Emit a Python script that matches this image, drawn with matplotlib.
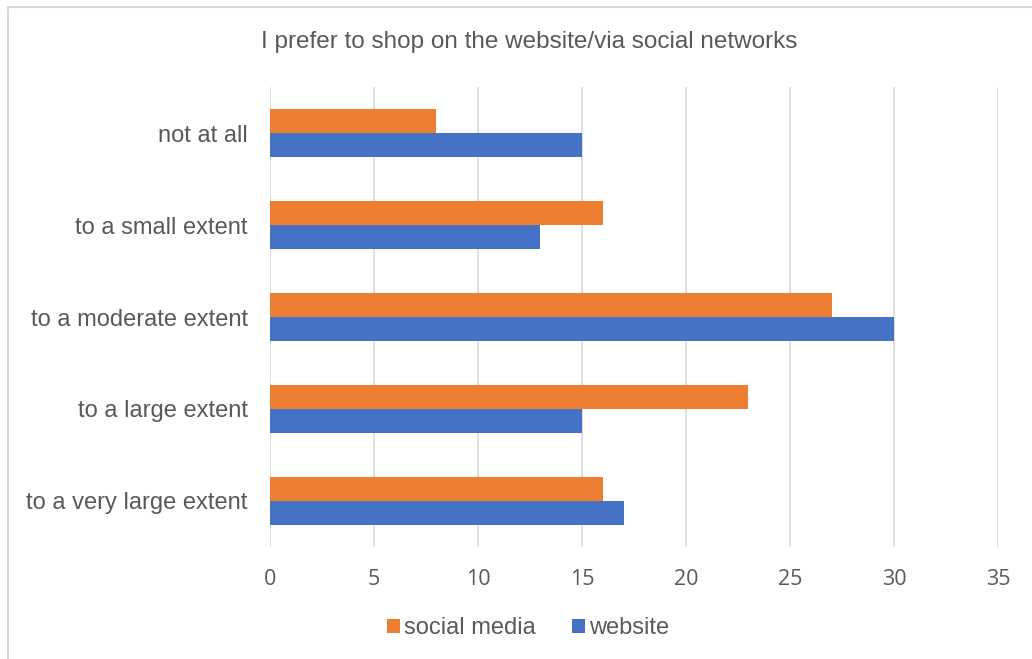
import matplotlib.pyplot as plt
import numpy as np
from matplotlib.lines import Line2D

categories = ['not at all', 'to a small extent', 'to a moderate extent',
              'to a large extent', 'to a very large extent']
social_media = [8, 16, 27, 23, 16]
website = [15, 13, 30, 15, 17]
ticks = [0, 5, 10, 15, 20, 25, 30, 35]

orange = '#ED7D31'
blue = '#4472C4'
grey = '#595959'

plt.rcParams['font.family'] = ['Liberation Sans', 'DejaVu Sans']

fig = plt.figure(figsize=(10.32, 6.59), dpi=100)
ax = fig.add_axes([270 / 1032, 1 - 547 / 659, (998 - 270) / 1032, (547 - 87) / 659])

y = np.arange(len(categories))
h = 0.265
ax.barh(y - h / 2, social_media, height=h, color=orange, label='social media')
ax.barh(y + h / 2, website, height=h, color=blue, label='website')

ax.set_xlim(0, 35)
ax.set_ylim(len(categories) - 0.5, -0.5)
ax.set_xticks(ticks)
ax.set_xticklabels([str(t) for t in ticks], family=['Open Sans', 'DejaVu Sans'],
                   fontsize=15.5, color=grey)
ax.set_yticks(y)
ax.set_yticklabels(categories, fontsize=17, color=grey)
ax.tick_params(axis='both', length=0)
ax.tick_params(axis='x', pad=16)
ax.tick_params(axis='y', pad=16)
ax.grid(axis='x', color='#D9D9D9', linewidth=1.2)
ax.set_axisbelow(True)
for s in ax.spines.values():
    s.set_visible(False)

fig.text(529 / 1032, 1 - 42 / 659, 'I prefer to shop on the website/via social networks',
         ha='center', va='center', fontsize=17.5, color=grey)

ax.legend(loc='center', bbox_to_anchor=(528 / 1032, 1 - 628 / 659),
          bbox_transform=fig.transFigure, ncol=2, frameon=False, fontsize=17,
          handlelength=0.55, handleheight=0.55, handletextpad=0.2, columnspacing=1.5,
          labelcolor=grey)

# chart border (left and top only visible)
fig.add_artist(Line2D([8 / 1032, 8 / 1032], [0, 1 - 7 / 659], color='#D9D9D9', linewidth=1.5))
fig.add_artist(Line2D([8 / 1032, 1], [1 - 7 / 659, 1 - 7 / 659], color='#D9D9D9', linewidth=1.5))

fig.savefig('out.png', dpi=100)
